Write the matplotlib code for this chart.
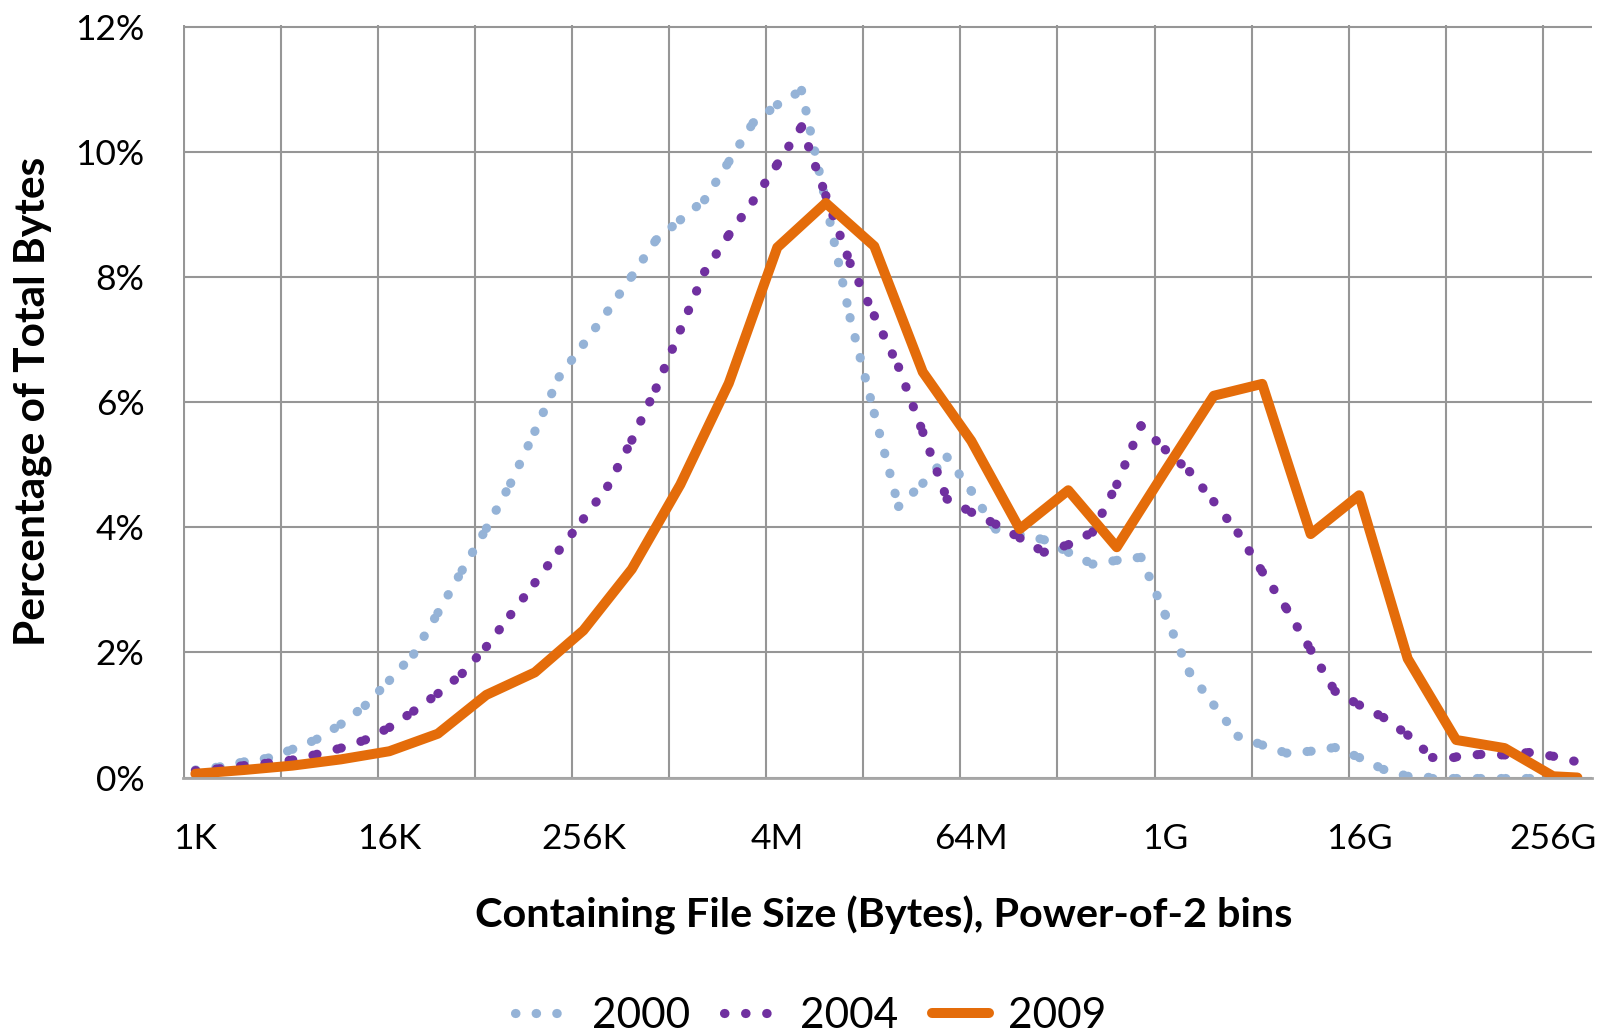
import matplotlib.pyplot as plt
import numpy as np

plt.rcParams['font.family'] = ['Lato', 'DejaVu Sans']

# x position in power-of-2 bins, 0 = 1K (2^10)
half_bins = np.arange(0, 29, 0.5)
bins_2009 = list(range(29)) + [28.5]

pct_2000 = [0.12, 0.17, 0.25, 0.31, 0.45, 0.61, 0.85, 1.15, 1.55, 1.97,
            2.63, 3.31, 3.98, 4.70, 5.53, 6.40, 6.92, 7.45, 8.01, 8.59,
            8.91, 9.23, 9.84, 10.46, 10.75, 10.98, 9.20, 7.35, 5.82, 4.33,
            4.70, 5.12, 4.58, 3.97, 3.88, 3.80, 3.60, 3.41, 3.47, 3.52,
            2.60, 1.68, 1.16, 0.66, 0.52, 0.39, 0.42, 0.48, 0.32, 0.13,
            0.02, 0.0, 0.0, 0.0, 0.0, 0.0, 0.0, 0.0]
pct_2004 = [0.11, 0.14, 0.19, 0.23, 0.28, 0.37, 0.47, 0.60, 0.80, 1.06,
            1.34, 1.66, 2.09, 2.60, 3.11, 3.63, 4.13, 4.65, 5.39, 6.22,
            7.15, 8.08, 8.67, 9.21, 9.80, 10.40, 9.30, 8.22, 7.38, 6.56,
            5.52, 4.45, 4.24, 4.05, 3.83, 3.60, 3.72, 3.92, 4.68, 5.62,
            5.24, 4.89, 4.41, 3.91, 3.29, 2.70, 2.04, 1.38, 1.16, 0.96,
            0.68, 0.33, 0.33, 0.37, 0.36, 0.40, 0.34, 0.25]
pct_2009 = [0.06, 0.12, 0.19, 0.29, 0.42, 0.70, 1.32, 1.68, 2.35, 3.33,
            4.68, 6.30, 8.47, 9.18, 8.49, 6.48, 5.38, 3.97, 4.59, 3.68,
            4.90, 6.10, 6.29, 3.89, 4.51, 1.90, 0.60, 0.47, 0.02, 0.0]

size_labels = ['1K', '16K', '256K', '4M', '64M', '1G', '16G', '256G']
label_bins = [0, 4, 8, 12, 16, 20, 24, 28]
pct_ticks = [0, 2, 4, 6, 8, 10, 12]


def dotted(ax, x, y, color, lw, gap, label):
    # excel restarts the dot pattern on every segment, so draw them one by one
    for i in range(len(x) - 1):
        ax.plot(x[i:i + 2], y[i:i + 2], color=color, lw=lw,
                linestyle=(0, (0.05, gap)), dash_capstyle='round',
                label=label if i == 0 else '_nolegend_')


fig = plt.figure(figsize=(16.09, 10.36), dpi=100)
ax = fig.add_axes([0.1139, 0.2495, 0.8755, 0.7261])

dotted(ax, half_bins, pct_2000, '#95b3d7', 6.6, 2.2, '2000')
dotted(ax, half_bins, pct_2004, '#7030a0', 6.6, 2.25, '2004')
ax.plot(bins_2009, pct_2009, color='#e46c0a', lw=7.2,
        solid_capstyle='round', solid_joinstyle='round', label='2009')

ax.set_xlim(-0.25, 28.8)
ax.set_ylim(0, 12.02)
ax.set_xticks(label_bins)
ax.set_xticklabels(size_labels)
ax.set_xticks(np.arange(-0.24, 28, 2.002), minor=True)
ax.set_yticks(pct_ticks)
ax.set_yticklabels([f'{v}%' for v in pct_ticks])
ax.grid(True, which='minor', axis='x', color='#969696', lw=1.5)
ax.grid(True, which='major', axis='y', color='#969696', lw=1.5)
ax.set_axisbelow(True)
ax.tick_params(axis='both', which='both', length=0, labelsize=25.5, colors='black')
ax.tick_params(axis='y', pad=28)
ax.tick_params(axis='x', pad=33)
for s in ['top', 'right', 'left']:
    ax.spines[s].set_visible(False)
ax.spines['bottom'].set_color('#a6a6a6')
ax.spines['bottom'].set_linewidth(2)

fig.text(0.549, 0.1168, 'Containing File Size (Bytes), Power-of-2 bins',
         ha='center', va='center', fontsize=29.8, fontweight='bold')
fig.text(0.0205, 0.613, 'Percentage of Total Bytes', rotation=90,
         ha='center', va='center', fontsize=30.5, fontweight='bold')

fig.legend(loc='center', bbox_to_anchor=(0.504, 0.0193), ncol=3, frameon=False,
           fontsize=30.5, handlelength=1.35, handletextpad=0.45, columnspacing=0.8)

fig.savefig('out.png', dpi=100)
